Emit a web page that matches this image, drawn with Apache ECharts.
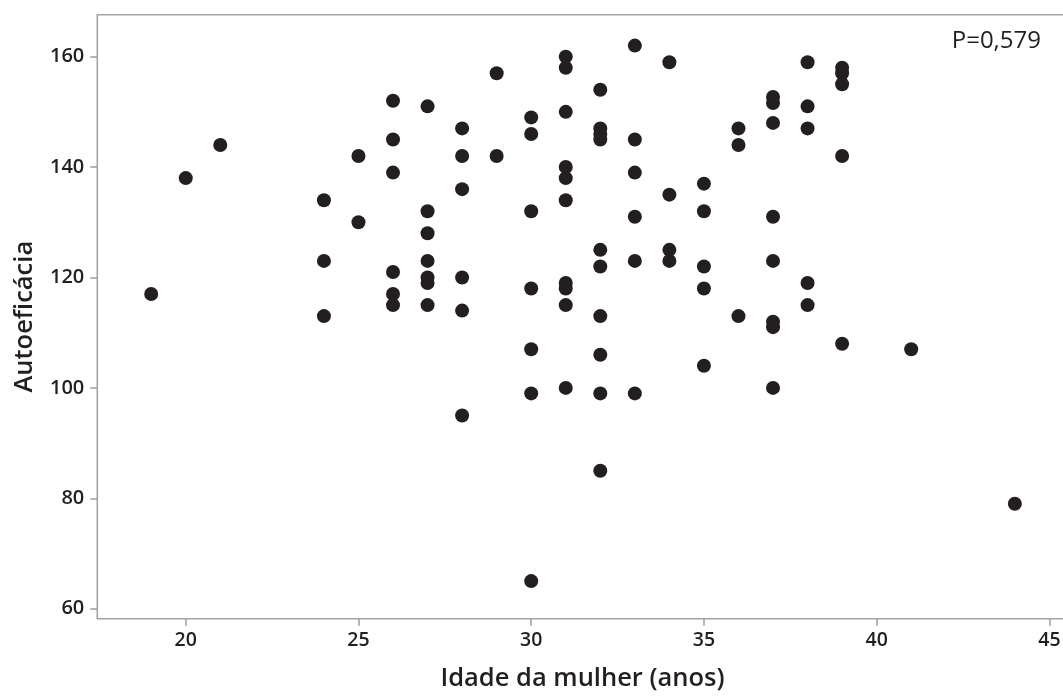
<!DOCTYPE html>
<html>
<head>
<meta charset="utf-8">
<script src="https://cdn.jsdelivr.net/npm/echarts@6/dist/echarts.min.js"></script>
<style>
html,body{margin:0;padding:0;background:#fff;}
#chart{width:1063px;height:696px;}
</style>
</head>
<body>
<div id="chart"></div>
<script>
// Idade da mulher (anos) for each point
const idade = [
  19,
  20,
  21,
  24, 24, 24,
  25, 25,
  26, 26, 26, 26, 26, 26,
  27, 27, 27, 27, 27, 27, 27,
  28, 28, 28, 28, 28, 28,
  29, 29,
  30, 30, 30, 30, 30, 30, 30,
  31, 31, 31, 31, 31, 31, 31, 31, 31, 31,
  32, 32, 32, 32, 32, 32, 32, 32, 32, 32,
  33, 33, 33, 33, 33, 33,
  34, 34, 34, 34,
  35, 35, 35, 35, 35,
  36, 36, 36,
  37, 37, 37, 37, 37, 37, 37, 37,
  38, 38, 38, 38, 38,
  39, 39, 39, 39, 39,
  41,
  44
];
// Autoeficácia for each point (same order)
const autoeficacia = [
  117,
  138,
  144,
  134, 123, 113,
  142, 130,
  152, 145, 139, 121, 117, 115,
  151, 132, 128, 123, 120, 119, 115,
  147, 142, 136, 120, 114, 95,
  157, 142,
  149, 146, 132, 118, 107, 99, 65,
  160, 158, 150, 140, 138, 134, 119, 118, 115, 100,
  154, 147, 146, 145, 125, 122, 113, 106, 99, 85,
  162, 145, 139, 131, 123, 99,
  159, 135, 125, 123,
  137, 132, 122, 118, 104,
  147, 144, 113,
  152.7, 151.6, 148, 131, 123, 112, 111, 100,
  159, 151, 147, 119, 115,
  158, 157, 155, 142, 108,
  107,
  79
];
const xTicks = [20, 25, 30, 35, 40, 45];
const yTicks = [60, 80, 100, 120, 140, 160];
const xTitle = 'Idade da mulher (anos)';
const yTitle = 'Autoeficácia';
const pText = 'P=0,579';

const points = idade.map((a, i) => [a, autoeficacia[i]]);

const axisGray = '#a3a3a3';
const ink = '#231f20';
const font = "'Open Sans', 'Noto Sans', sans-serif";

const chart = echarts.init(document.getElementById('chart'), null, {renderer: 'canvas'});
chart.setOption({
  backgroundColor: '#ffffff',
  animation: false,
  grid: {
    left: 97.3, top: 14.7, width: 970.4, height: 604,
    containLabel: false,
    outerBoundsMode: 'none',
    show: true, borderColor: axisGray, borderWidth: 1.6, backgroundColor: 'transparent'
  },
  xAxis: {
    type: 'value',
    min: 17.44, max: 45.53,
    splitLine: {show: false},
    axisLine: {show: false},
    axisTick: {show: true, customValues: xTicks, length: 7, lineStyle: {color: axisGray, width: 1.6}},
    axisLabel: {customValues: xTicks, margin: 12, color: ink, fontSize: 19.5, fontWeight: 600, fontFamily: font},
    name: xTitle,
    nameLocation: 'middle',
    nameGap: 47,
    nameTextStyle: {color: ink, fontSize: 25.5, fontWeight: 600, fontFamily: font}
  },
  yAxis: {
    type: 'value',
    min: 58.19, max: 167.6,
    splitLine: {show: false},
    axisLine: {show: false},
    axisTick: {show: true, customValues: yTicks, length: 7, lineStyle: {color: axisGray, width: 1.6}},
    axisLabel: {customValues: yTicks, margin: 13, color: ink, fontSize: 20, fontWeight: 600, fontFamily: font},
    name: yTitle,
    nameLocation: 'middle',
    nameGap: 60,
    nameRotate: 90,
    nameTextStyle: {color: ink, fontSize: 25.5, fontWeight: 600, fontFamily: font}
  },
  series: [{
    type: 'scatter',
    data: points,
    symbol: 'circle',
    symbolSize: 14,
    itemStyle: {color: ink, opacity: 1},
    clip: false
  }],
  graphic: [{
    type: 'text',
    right: 22,
    top: 29,
    style: {text: pText, fill: ink, font: "24px 'Open Sans', sans-serif"}
  }]
});
</script>
</body>
</html>
